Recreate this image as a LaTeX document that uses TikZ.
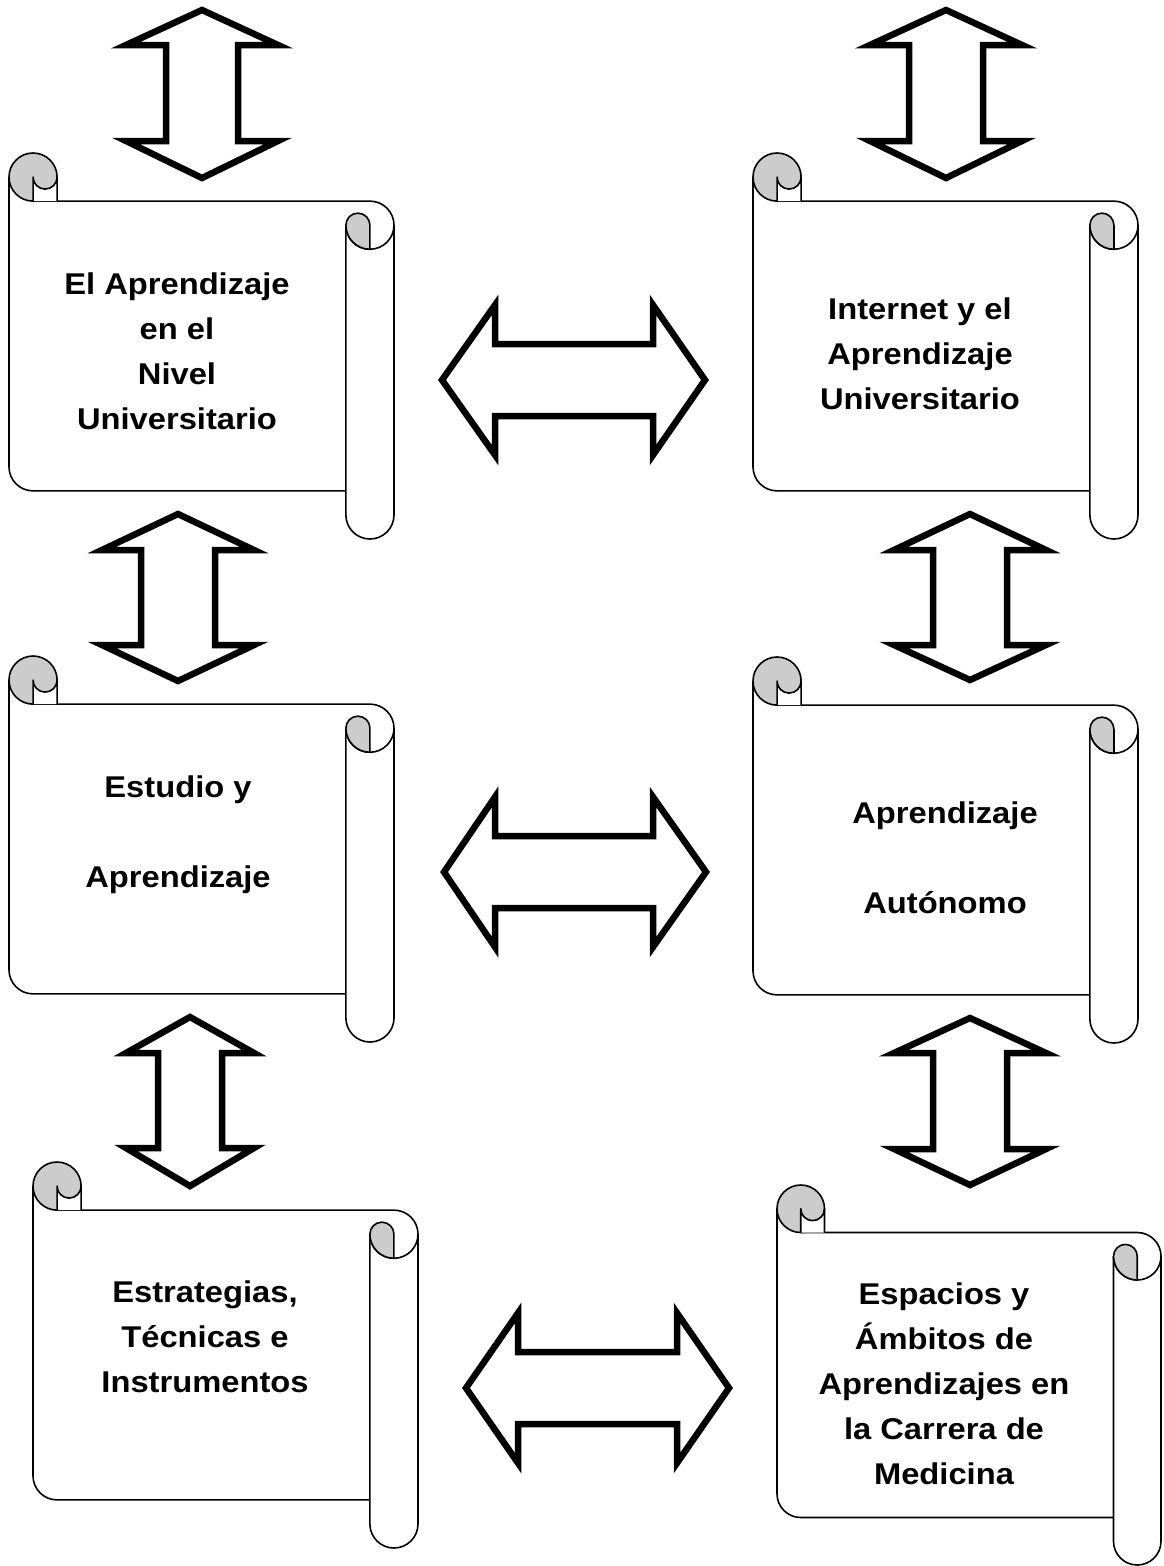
\documentclass[tikz,border=0pt]{standalone}
\usepackage{fontspec}
\setmainfont{Liberation Sans}
\newfontfamily\lblfont{Liberation Sans}[FakeStretch=1.09]
\definecolor{rollgray}{RGB}{204,204,204}
\tikzset{
  scrollline/.style={line width=1.6pt, line join=round},
  blockarrow/.style={line width=6.5pt, line join=miter, fill=white},
  label/.style={align=center, inner sep=0pt, font=\lblfont\bfseries\fontsize{30}{45}\selectfont}
}
\newcommand\scrollshape[4]{%
  \pgfmathsetmacro\sL{#1}\pgfmathsetmacro\sT{#2}\pgfmathsetmacro\sR{#3}\pgfmathsetmacro\sB{#4}%
  \pgfmathsetmacro\scH{0.125*min(#3-#1,#4-#2)}%
  \pgfmathsetmacro\scHh{\scH/2}\pgfmathsetmacro\scHq{\scH/4}%
  % white silhouette
  \fill[white] (\sL,\sT+\scHh) arc[start angle=180,end angle=360,radius=\scHh]
    -- (\sL+\scH,\sT+\scH) -- (\sR-\scHh,\sT+\scH) arc[start angle=270,end angle=360,radius=\scHh]
    -- (\sR,\sB-\scHh) arc[start angle=0,end angle=180,radius=\scHh]
    -- (\sR-\scH,\sB-\scH) -- (\sL+\scHh,\sB-\scH) arc[start angle=90,end angle=180,radius=\scHh] -- cycle;
  % body left edge and bottom
  \draw[scrollline] (\sL,\sT+\scHh) -- (\sL,\sB-\scH-\scHh) arc[start angle=180,end angle=90,radius=\scHh] -- (\sR-\scH,\sB-\scH);
  % top edge, corner, right roll
  \draw[scrollline] (\sL+\scHh,\sT+\scH) -- (\sR-\scHh,\sT+\scH) arc[start angle=270,end angle=360,radius=\scHh]
    -- (\sR,\sB-\scHh) arc[start angle=0,end angle=180,radius=\scHh] -- (\sR-\scH,\sT+\scH+\scHh);
  \draw[scrollline] (\sR,\sT+\scH+\scHh) arc[start angle=0,end angle=180,radius=\scHh];
  % right roll gray lobe
  \filldraw[scrollline, fill=rollgray] (\sR-\scH,\sT+\scH+\scHh) arc[start angle=180,end angle=360,radius=\scHq]
    -- (\sR-\scHh,\sT+\scH+\scH) arc[start angle=90,end angle=180,radius=\scHh] -- cycle;
  % top-left curl
  \filldraw[scrollline, fill=rollgray] (\sL+\scHh,\sT+\scHh) circle[radius=\scHh];
  \fill[white] (\sL+\scHh,\sT+\scH) -- (\sL+\scHh,\sT+\scHh) arc[start angle=180,end angle=0,radius=\scHq] -- (\sL+\scH,\sT+\scH) -- cycle;
  \draw[scrollline] (\sL+\scHh,\sT+\scH) -- (\sL+\scHh,\sT+\scHh) arc[start angle=180,end angle=0,radius=\scHq] -- (\sL+\scH,\sT+\scH);
}
% vertical block arrow: cx, ytop, yw1, yw2, ybot, head half width, shaft half width
\newcommand\vblock[7]{%
  \draw[blockarrow] (#1,#2) -- (#1+#6,#3) -- (#1+#7,#3) -- (#1+#7,#4) -- (#1+#6,#4) -- (#1,#5)
    -- (#1-#6,#4) -- (#1-#7,#4) -- (#1-#7,#3) -- (#1-#6,#3) -- cycle;}
% horizontal block arrow: cy, xleft, xw1, xw2, xright, head half height, shaft half height
\newcommand\hblock[7]{%
  \draw[blockarrow] (#2,#1) -- (#3,#1-#6) -- (#3,#1-#7) -- (#4,#1-#7) -- (#4,#1-#6) -- (#5,#1)
    -- (#4,#1+#6) -- (#4,#1+#7) -- (#3,#1+#7) -- (#3,#1+#6) -- cycle;}
\begin{document}
\begin{tikzpicture}[x=1pt,y=-1pt]
\useasboundingbox[fill=white] (0,0) rectangle (1164,1566);
% scrolls
\scrollshape{9}{153}{394}{539}
\scrollshape{753}{153}{1138}{539}
\scrollshape{9}{656}{394}{1042}
\scrollshape{753}{657}{1138}{1043}
\scrollshape{33}{1162}{418}{1548}
\scrollshape{777}{1185}{1161}{1565}
% vertical arrows
\vblock{202}{10}{45}{141}{178}{76}{36}
\vblock{946}{10}{45}{141}{178}{76}{37}
\vblock{178}{514}{550}{645}{681}{76}{37}
\vblock{970}{514}{550}{645}{680}{76}{37}
\vblock{190}{1017}{1053}{1148}{1186}{64}{32}
\vblock{970}{1018}{1053}{1149}{1185}{76}{37}
% horizontal arrows
\hblock{380}{442}{495}{653}{705}{75}{36}
\hblock{872}{444}{495}{653}{706}{75}{36}
\hblock{1388}{466}{518}{677}{729}{75}{36}
% texts
\node[label] (t1) at (177,351) {El Aprendizaje\\en el\\Nivel\\Universitario};
\node[label] (t2) at (920,354) {Internet y el\\Aprendizaje\\Universitario};
\node[label] (t3) at (178,835) {Estudio y\\[45pt]Aprendizaje};
\node[label] (t4) at (945,858) {Aprendizaje\\[45pt]Autónomo};
\node[label] (t5) at (205,1337) {Estrategias,\\Técnicas e\\Instrumentos};
\node[label] (t6) at (944,1384) {Espacios y\\Ámbitos de\\Aprendizajes en\\la Carrera de\\Medicina};
\end{tikzpicture}
\end{document}
